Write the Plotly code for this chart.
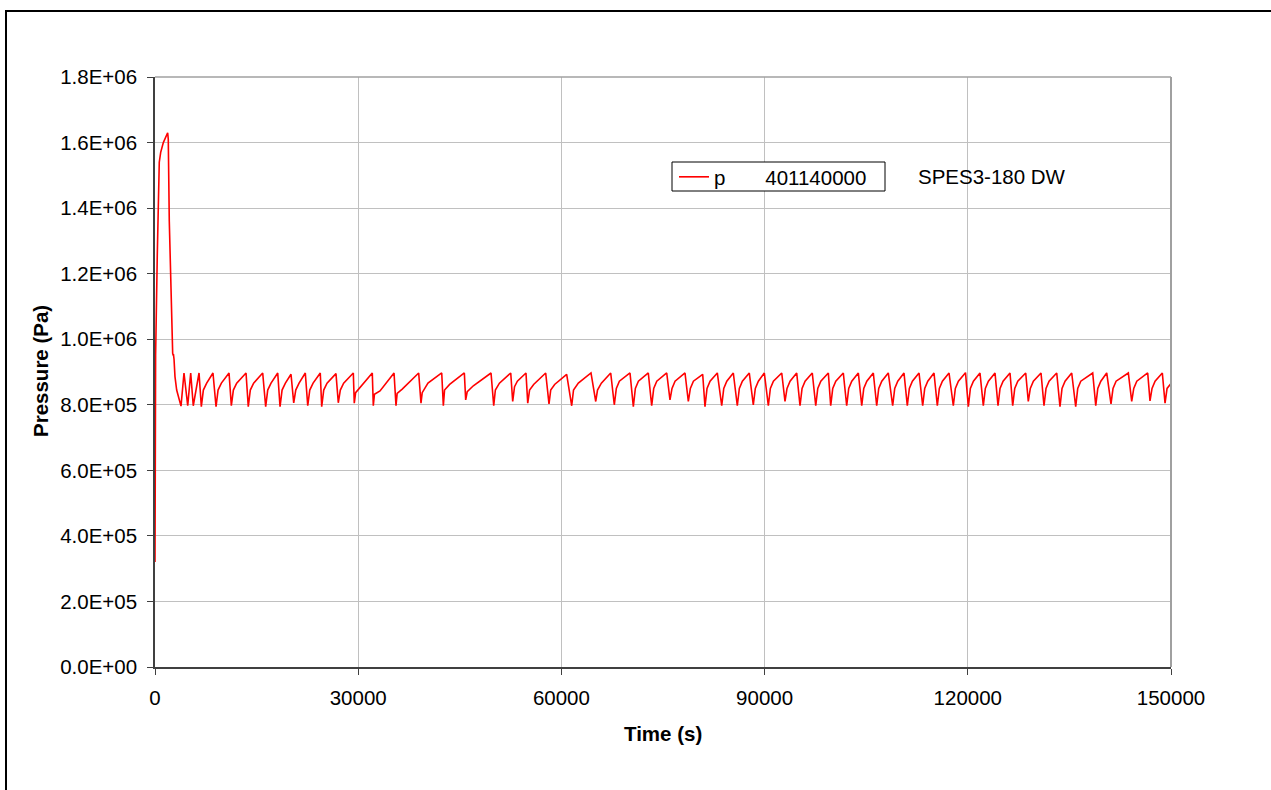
import plotly.graph_objects as go

# ---------------- data ----------------
startup_t = [0, 40, 90, 340, 490, 630, 840, 1230, 1870, 1960, 2110, 2320, 2470,
             2610, 2700, 2720, 2810, 2950, 3200, 3540]
startup_p = [3.2e5, 4.7e5, 9.5e5, 1.26e6, 1.39e6, 1.54e6, 1.57e6, 1.60e6, 1.63e6,
             1.61e6, 1.36e6, 1.16e6, 1.04e6, 9.57e5, 9.50e5, 9.55e5, 9.39e5,
             8.86e5, 8.45e5, 8.15e5]

trough_t = [3840, 4830, 5650, 6840, 9010, 11270, 13770, 16340, 18460, 20480,
            22550, 24610, 27060, 29420, 32230, 35580, 39270, 42570, 45870, 50010,
            52810, 55030, 58170, 61520, 65070, 67810, 70620, 73330, 76030, 78740,
            81200, 83670, 85970, 88330, 90550, 93010, 95230, 97550, 99760, 102120,
            104340, 106550, 108910, 111070, 113340, 115500, 117860, 120080, 122290, 124460,
            126630, 128930, 131250, 133610, 135930, 138890, 141140, 144200, 146900, 149120]
trough_p = [7.96e5, 7.97e5, 7.97e5, 7.94e5, 7.94e5, 7.97e5, 7.94e5, 7.94e5, 7.94e5, 8.06e5,
            7.97e5, 7.94e5, 8.06e5, 8.05e5, 7.97e5, 7.97e5, 8.05e5, 7.97e5, 8.15e5, 7.97e5,
            8.10e5, 8.05e5, 8.03e5, 7.97e5, 8.10e5, 8.00e5, 7.94e5, 7.97e5, 8.15e5, 8.10e5,
            7.94e5, 7.97e5, 7.97e5, 8.00e5, 7.97e5, 8.10e5, 7.97e5, 7.97e5, 7.97e5, 7.97e5,
            7.97e5, 7.97e5, 7.97e5, 7.97e5, 7.97e5, 7.97e5, 7.97e5, 7.94e5, 7.97e5, 7.97e5,
            7.97e5, 8.10e5, 7.97e5, 7.94e5, 7.94e5, 7.97e5, 8.03e5, 8.10e5, 8.12e5, 8.05e5]

knee1_t = [None, None, None, 7140, 9310, 11570, 14070, 16640, 18760, 20780,
           22850, 24910, 27360, 29620, 32400, 35750, 39450, 42750, 46100, 50250,
           53080, 55300, 58420, 61790, 65330, 68110, 70920, 73630, 76330, 79040,
           81500, 83970, 86270, 88630, 90850, 93310, 95530, 97850, 100060, 102420,
           104640, 106850, 109210, 111370, 113640, 115800, 118160, 120380, 122590, 124760,
           126930, 129230, 131550, 133910, 136230, 139190, 141440, 144500, 147200, 149420]
knee1_p = [None, None, None, 8.45e5, 8.45e5, 8.45e5, 8.45e5, 8.45e5, 8.45e5, 8.45e5,
           8.45e5, 8.45e5, 8.45e5, 8.37e5, 8.32e5, 8.35e5, 8.37e5, 8.45e5, 8.40e5, 8.45e5,
           8.55e5, 8.45e5, 8.45e5, 8.45e5, 8.45e5, 8.50e5, 8.50e5, 8.50e5, 8.50e5, 8.50e5,
           8.50e5, 8.50e5, 8.50e5, 8.50e5, 8.50e5, 8.50e5, 8.50e5, 8.50e5, 8.50e5, 8.50e5,
           8.50e5, 8.50e5, 8.50e5, 8.50e5, 8.50e5, 8.50e5, 8.50e5, 8.50e5, 8.50e5, 8.50e5,
           8.50e5, 8.50e5, 8.50e5, 8.50e5, 8.50e5, 8.50e5, 8.50e5, 8.50e5, 8.50e5, 8.50e5]

knee2_t = [None, None, None, 7630, 9800, 12060, 14560, 17130, 19250, 21270,
           23340, 25400, 27850, 30500, 33220, 36500, 40300, 43500, 47000, 50850,
           53500, 55900, 59000, 62500, 65900, 68560, 71370, 74080, 76780, 79490,
           81950, 84420, 86720, 89080, 91300, 93760, 95980, 98300, 100510, 102870,
           105090, 107300, 109660, 111820, 114090, 116250, 118610, 120830, 123040, 125210,
           127380, 129680, 132000, 134360, 136680, 139640, 141890, 144950, 147650, None]
knee2_p = [None, None, None, 8.66e5, 8.66e5, 8.66e5, 8.66e5, 8.66e5, 8.66e5, 8.66e5,
           8.66e5, 8.66e5, 8.66e5, 8.58e5, 8.42e5, 8.48e5, 8.66e5, 8.62e5, 8.58e5, 8.66e5,
           8.72e5, 8.62e5, 8.62e5, 8.66e5, 8.66e5, 8.72e5, 8.72e5, 8.72e5, 8.72e5, 8.72e5,
           8.72e5, 8.72e5, 8.72e5, 8.72e5, 8.72e5, 8.72e5, 8.72e5, 8.72e5, 8.72e5, 8.72e5,
           8.72e5, 8.72e5, 8.72e5, 8.72e5, 8.72e5, 8.72e5, 8.72e5, 8.72e5, 8.72e5, 8.72e5,
           8.72e5, 8.72e5, 8.72e5, 8.72e5, 8.72e5, 8.72e5, 8.72e5, 8.72e5, 8.72e5, None]

peak_t = [4280, 5270, 6500, 8560, 10930, 13440, 15900, 18120, 20080, 22190,
          24400, 26720, 29280, 32080, 35290, 38930, 42330, 45670, 49610, 52520,
          54770, 57680, 60780, 64370, 67280, 70130, 72830, 75550, 78250, 80860,
          83020, 85380, 87740, 89960, 92530, 94740, 97040, 99410, 101620, 103840,
          106050, 108260, 110580, 112800, 115010, 117230, 119660, 121800, 124020, 126230,
          128550, 130810, 133130, 135340, 138440, 140510, 143700, 146560, 148720]
peak_p = [8.97e5, 8.97e5, 8.97e5, 8.97e5, 8.97e5, 8.97e5, 8.97e5, 8.97e5, 8.93e5, 8.97e5,
          8.97e5, 8.95e5, 8.97e5, 8.97e5, 8.97e5, 8.97e5, 8.97e5, 8.97e5, 8.97e5, 8.97e5,
          8.97e5, 8.97e5, 8.93e5, 8.97e5, 8.97e5, 8.97e5, 8.97e5, 8.97e5, 8.97e5, 8.93e5,
          8.97e5, 8.97e5, 8.97e5, 8.97e5, 8.97e5, 8.97e5, 8.97e5, 8.97e5, 8.97e5, 8.97e5,
          8.97e5, 8.97e5, 8.97e5, 8.97e5, 8.97e5, 8.97e5, 8.98e5, 8.97e5, 8.97e5, 8.97e5,
          8.97e5, 8.97e5, 8.97e5, 8.97e5, 8.97e5, 8.97e5, 8.97e5, 8.97e5, 8.97e5]

end_t = [150000]
end_p = [8.65e5]

x_tickvals = [0, 30000, 60000, 90000, 120000, 150000]
x_ticktext = ["0", "30000", "60000", "90000", "120000", "150000"]
y_tickvals = [0, 2e5, 4e5, 6e5, 8e5, 1.0e6, 1.2e6, 1.4e6, 1.6e6, 1.8e6]
y_ticktext = ["0.0E+00", "2.0E+05", "4.0E+05", "6.0E+05", "8.0E+05",
              "1.0E+06", "1.2E+06", "1.4E+06", "1.6E+06", "1.8E+06"]

series_name = "p" + "\u00a0" * 7 + "401140000"
side_label = "SPES3-180 DW"

# ---------------- assemble the series ----------------
t = list(startup_t)
p = list(startup_p)
for i in range(len(trough_t)):
    t.append(trough_t[i]); p.append(trough_p[i])
    if knee1_t[i] is not None:
        t.append(knee1_t[i]); p.append(knee1_p[i])
    if knee2_t[i] is not None:
        t.append(knee2_t[i]); p.append(knee2_p[i])
    if i < len(peak_t):
        t.append(peak_t[i]); p.append(peak_p[i])
t += end_t
p += end_p

FONT = "Liberation Sans, Arial, sans-serif"
FS = 20.5
W, H = 1271, 790
L, R, T, B = 155, 100, 77, 123
PW, PH = W - L - R, H - T - B


def px(x):
    return (x - L) / PW


def py(y):
    return (H - B - y) / PH


fig = go.Figure()
fig.add_trace(go.Scatter(x=t, y=p, mode="lines", name=series_name,
                         line=dict(color="#ff0000", width=1.6), showlegend=True))

fig.update_layout(
    width=W, height=H,
    margin=dict(l=L, r=R, t=T, b=B, pad=0),
    paper_bgcolor="white", plot_bgcolor="white",
    font=dict(family=FONT, size=FS, color="black"),
    xaxis=dict(range=[0, 150000], tickmode="array", tickvals=x_tickvals, ticktext=x_ticktext,
               ticks="outside", ticklen=6, tickwidth=1, tickcolor="#404040",
               showgrid=True, gridcolor="#c0c0c0", gridwidth=1,
               showline=True, linecolor="#404040", linewidth=1.5,
               zeroline=False, tickfont=dict(size=FS), ticklabelstandoff=6),
    yaxis=dict(range=[0, 1.8e6], tickmode="array", tickvals=y_tickvals, ticktext=y_ticktext,
               ticks="outside", ticklen=6, tickwidth=1, tickcolor="#404040",
               showgrid=True, gridcolor="#c0c0c0", gridwidth=1,
               showline=True, linecolor="#404040", linewidth=1.5,
               zeroline=False, tickfont=dict(size=FS), ticklabelstandoff=6),
    legend=dict(x=px(674), y=py(157), xanchor="left", yanchor="top",
                borderwidth=0, bgcolor="rgba(0,0,0,0)",
                font=dict(family=FONT, size=FS, color="black"),
                itemwidth=30, tracegroupgap=0),
    showlegend=True,
)

# legend frame (white-filled box behind the legend entry)
fig.add_shape(type="rect", xref="paper", yref="paper",
              x0=px(672), x1=px(885), y0=py(191), y1=py(162),
              line=dict(color="black", width=1), fillcolor="white", layer="above")
# plot-area frame (top and right in gray)
fig.add_shape(type="line", xref="paper", yref="paper", x0=0, x1=1, y0=1, y1=1,
              line=dict(color="#a0a0a0", width=1.5))
fig.add_shape(type="line", xref="paper", yref="paper", x0=1, x1=1, y0=0, y1=1,
              line=dict(color="#a0a0a0", width=2))
# outer chart border
fig.add_shape(type="rect", xref="paper", yref="paper",
              x0=px(6), x1=px(1290), y0=py(11), y1=py(810),
              line=dict(color="black", width=2), fillcolor="rgba(0,0,0,0)")

fig.add_annotation(text=side_label, xref="paper", yref="paper", x=px(916), y=py(176),
                   xanchor="left", yanchor="middle", showarrow=False,
                   font=dict(family=FONT, size=FS, color="black"))
fig.add_annotation(text="<b>Pressure (Pa)</b>", xref="paper", yref="paper",
                   x=px(40), y=py(371), xanchor="center", yanchor="middle",
                   textangle=-90, showarrow=False,
                   font=dict(family=FONT, size=FS, color="black"))
fig.add_annotation(text="<b>Time (s)</b>", xref="paper", yref="paper",
                   x=px(663), y=py(733), xanchor="center", yanchor="middle",
                   showarrow=False, font=dict(family=FONT, size=FS, color="black"))

fig.write_html("out.html")
